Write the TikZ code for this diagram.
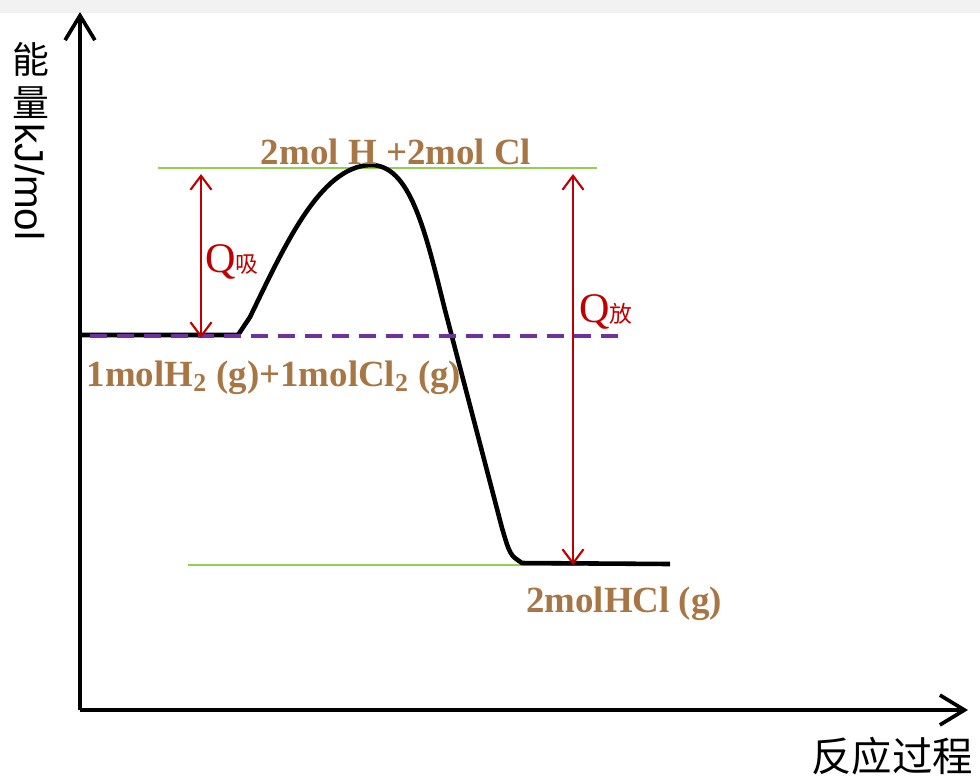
\documentclass[tikz,border=0pt]{standalone}
\usepackage{fontspec}
\setmainfont{Liberation Serif}
\newfontfamily\cjk{Noto Sans CJK SC}
\newfontfamily\axisfont{Liberation Sans}
\usetikzlibrary{arrows.meta}
\definecolor{labelbrown}{RGB}{168,118,68}
\definecolor{levelgreen}{RGB}{146,208,80}
\definecolor{dashpurple}{RGB}{112,48,160}
\definecolor{heatred}{RGB}{192,0,0}
\tikzset{
  axisline/.style={line width=2.1pt,-{Straight Barb[length=14pt,width=17pt]}},
  heatarrow/.style={heatred,line width=1.2pt,{Straight Barb[length=8pt,width=12pt]}-{Straight Barb[length=8pt,width=12pt]}},
  species/.style={text=labelbrown,font=\bfseries\fontsize{21}{25}\selectfont,inner sep=0pt},
  heatlabel/.style={text=heatred,font=\fontsize{24}{28}\selectfont,inner sep=0pt,anchor=base west}
}
\begin{document}
\begin{tikzpicture}[x=0.02cm,y=-0.02cm]
  \useasboundingbox (0,0) rectangle (980,779);
  \fill[black!5] (0,0) rectangle (980,13);

  % Axes
  \coordinate (O) at (80,710);
  \coordinate (ytip) at (80,12);
  \coordinate (xtip) at (968,710);
  \draw[axisline] (O) -- (ytip);
  \draw[axisline] (O) -- (xtip);
  \node (ylab1) at (31,59) {\cjk\fontsize{21}{21}\selectfont 能};
  \node (ylab2) at (31,103) {\cjk\fontsize{21}{21}\selectfont 量};
  \node[rotate=-90] (ylab3) at (30,182) {\axisfont\fontsize{23}{23}\selectfont kJ/mol};
  \node (xlab) at (892,756) {\cjk\fontsize{23}{23}\selectfont 反应过程};

  % Energy levels
  \coordinate (topL) at (158,168);
  \coordinate (topR) at (597,168);
  \coordinate (botL) at (188,565);
  \coordinate (botR) at (584,565);
  \coordinate (midL) at (90,336);
  \coordinate (midR) at (625,336);
  \draw[levelgreen,line width=1.6pt] (topL) -- (topR);
  \draw[levelgreen,line width=1.6pt] (botL) -- (botR);

  % Reaction path
  \draw[line width=2.6pt,line join=round] (80,335) -- (238,335) -- (250,317)
    .. controls (285,245) and (320,167) .. (370,165)
    .. controls (410,164) and (425,230) .. (445,310)
    -- (502,528) .. controls (510,555) .. (522,563) -- (670,564);
  \draw[dashpurple,line width=2.1pt,dash pattern=on 9.6pt off 5.7pt] (midL) -- (midR);

  % Heats
  \coordinate (q1top) at (201,174);
  \coordinate (q1bot) at (201,338);
  \coordinate (q2top) at (573,174);
  \coordinate (q2bot) at (573,565);
  \draw[heatarrow] (q1top) -- (q1bot);
  \draw[heatarrow] (q2top) -- (q2bot);
  \node[heatlabel] (qabs) at (205,272) {Q{\cjk\fontsize{13}{13}\selectfont 吸}};
  \node[heatlabel] (qrel) at (579,322) {Q{\cjk\fontsize{13}{13}\selectfont 放}};

  % Species
  \node[species,anchor=base] (atoms) at (396,164) {2mol H +2mol Cl};
  \node[species,anchor=base] (reactants) at (274,386) {1molH\textsubscript{2} (g)+1molCl\textsubscript{2} (g)};
  \node[species,anchor=base] (product) at (624,612) {2molHCl (g)};
\end{tikzpicture}
\end{document}
